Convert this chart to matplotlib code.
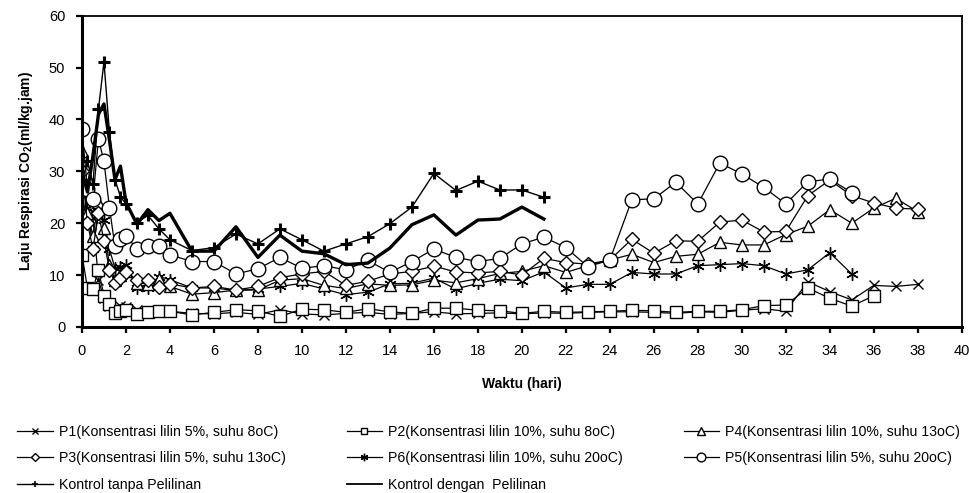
import matplotlib
matplotlib.use("Agg")
import matplotlib.pyplot as plt
from matplotlib.lines import Line2D

plt.rcParams['font.family'] = ['Liberation Sans', 'DejaVu Sans']
plt.rcParams['mathtext.fontset'] = 'custom'
plt.rcParams['mathtext.bf'] = 'Liberation Sans:bold'

# waktu pengamatan (hari): rapat di awal, lalu harian
hari_awal = [0, 0.25, 0.5, 0.75, 1, 1.25, 1.5, 1.75, 2, 2.5, 3, 3.5, 4, 5]
hari_38 = hari_awal + list(range(6, 39))
hari_36 = hari_awal + list(range(6, 37))
hari_35 = hari_awal + list(range(6, 36))
hari_21 = hari_awal + list(range(6, 22))

p1 = [20.5, 26.0, 21.0, 9.0, 5.5, 4.0, 3.5, 4.0, 3.9, 3.3, 3.0, 3.3, 3.0, 2.6,
      2.5, 2.8, 2.4, 3.3, 2.5, 2.3, 2.6, 2.8, 2.4, 2.6, 2.9, 2.5, 2.6, 2.7, 2.5, 2.7,
      2.6, 2.8, 2.9, 2.9, 2.8, 2.6, 2.9, 2.8, 3.2, 3.5, 3.0, 8.7, 6.8, 5.2, 8.0, 7.8, 8.2]
p2 = [13.9, 7.5, 7.3, 11.0, 6.0, 4.5, 2.6, 3.1, 3.3, 2.5, 2.8, 3.1, 3.0, 2.3,
      2.8, 3.3, 3.1, 2.0, 3.4, 3.3, 2.8, 3.5, 2.9, 2.6, 3.6, 3.6, 3.2, 3.1, 2.6, 3.0,
      2.8, 2.9, 3.0, 3.2, 3.1, 2.8, 3.0, 3.0, 3.3, 4.1, 4.2, 7.5, 5.5, 4.0, 6.0]
p3 = [30.0, 20.0, 15.0, 22.0, 16.6, 11.0, 8.5, 9.5, 10.5, 9.1, 9.1, 7.7, 8.3, 7.5,
      7.8, 7.1, 7.8, 9.5, 10.2, 10.7, 8.0, 8.8, 10.2, 10.7, 11.7, 10.6, 10.4, 10.7, 10.0,
      13.2, 12.4, 12.1, 12.9, 16.9, 14.2, 16.6, 16.5, 20.2, 20.6, 18.3, 18.4, 25.3, 28.3,
      25.3, 23.9, 22.9, 22.7]
p4 = [34.0, 22.0, 17.5, 24.0, 19.0, 12.0, 9.0, 10.0, 10.8, 8.5, 8.3, 9.2, 7.8, 6.3,
      6.6, 7.1, 7.1, 9.0, 9.3, 8.0, 7.4, 8.3, 8.0, 8.1, 9.0, 8.5, 9.3, 10.3, 10.7,
      11.8, 10.5, 11.8, 12.9, 14.0, 12.4, 13.6, 14.0, 16.3, 15.8, 15.8, 17.8, 19.4, 22.6,
      20.0, 22.9, 24.8, 22.2]
p5 = [38.1, 26.5, 24.6, 36.3, 31.9, 23.0, 15.5, 16.9, 17.6, 15.0, 15.5, 15.5, 13.9, 12.6,
      12.6, 10.2, 11.2, 13.4, 11.3, 11.8, 11.0, 12.8, 10.5, 12.6, 15.0, 13.4, 12.6, 13.2,
      16.0, 17.3, 15.3, 11.6, 12.9, 24.5, 24.7, 27.9, 23.7, 31.6, 29.5, 26.9, 23.7, 28.0,
      28.5, 25.9]
p6 = [28.0, 23.0, 15.0, 22.2, 20.6, 15.0, 11.3, 11.5, 12.0, 7.5, 7.5, 9.7, 9.1, 7.5,
      7.5, 7.0, 7.3, 7.8, 8.4, 7.3, 6.2, 6.7, 8.3, 8.4, 9.4, 7.3, 8.4, 9.2, 8.9,
      10.6, 7.5, 8.2, 8.2, 10.5, 10.2, 10.2, 11.8, 12.0, 12.2, 11.8, 10.2, 11.0, 14.3, 10.2]
kontrol_tanpa = [28.0, 32.0, 27.5, 42.0, 51.1, 37.5, 28.4, 25.1, 23.7, 20.1, 21.5, 18.9, 16.8, 14.7,
                 15.3, 17.9, 16.0, 18.9, 16.8, 14.6, 16.0, 17.4, 19.9, 23.1, 29.6, 26.3,
                 28.1, 26.4, 26.4, 25.0]
kontrol_dengan = [30.0, 26.0, 33.0, 41.0, 43.0, 36.0, 28.4, 31.0, 24.0, 19.8, 22.6, 20.5, 21.9, 14.6,
                  14.6, 19.3, 13.4, 17.7, 14.6, 14.1, 12.0, 12.3, 15.2, 19.7, 21.6, 17.7,
                  20.6, 20.8, 23.1, 20.8]

label_p1 = "P1(Konsentrasi lilin 5%, suhu 8oC)"
label_p2 = "P2(Konsentrasi lilin 10%, suhu 8oC)"
label_p3 = "P3(Konsentrasi lilin 5%, suhu 13oC)"
label_p4 = "P4(Konsentrasi lilin 10%, suhu 13oC)"
label_p5 = "P5(Konsentrasi lilin 5%, suhu 20oC)"
label_p6 = "P6(Konsentrasi lilin 10%, suhu 20oC)"
label_kt = "Kontrol tanpa Pelilinan"
label_kd = "Kontrol dengan  Pelilinan"

fig = plt.figure(figsize=(9.7, 4.93), dpi=100)
ax = fig.add_axes([0.0845, 0.337, 0.907, 0.631])

garis = dict(color='black', lw=0.9, mfc='white', mec='black')
l1, = ax.plot(hari_38, p1, marker='x', ms=7, mew=1.0, label=label_p1, **garis)
l2, = ax.plot(hari_36, p2, marker='s', ms=8, mew=1.0, label=label_p2, **garis)
l6, = ax.plot(hari_35, p6, marker=(6, 2, 0), ms=9, mew=1.0, label=label_p6, **garis)
l4, = ax.plot(hari_38, p4, marker='^', ms=9, mew=1.0, label=label_p4, **garis)
l3, = ax.plot(hari_38, p3, marker='D', ms=7, mew=1.0, label=label_p3, **garis)
l5, = ax.plot(hari_35, p5, marker='o', ms=10.5, mew=1.0, label=label_p5, **garis)
lk, = ax.plot(hari_21, kontrol_tanpa, color='black', lw=1.0, marker='+', ms=8, mew=2.2,
              label=label_kt)
ld, = ax.plot(hari_21, kontrol_dengan, color='black', lw=2.4, label=label_kd)

ax.set_xlim(0, 40)
ax.set_ylim(0, 60)
ax.set_xticks(range(0, 41, 2))
ax.set_yticks(range(0, 61, 10))
ax.tick_params(direction='out', length=4, width=1.6, labelsize=10.5, pad=8)
for s in ax.spines.values():
    s.set_linewidth(1.3)
ax.spines['left'].set_linewidth(2.2)
ax.spines['bottom'].set_linewidth(2.2)

ax.set_xlabel("Waktu (hari)", fontsize=10, fontweight='bold', labelpad=14)
ax.set_ylabel(r"Laju Respirasi CO$\mathbf{_2}$(ml/kg.jam)", fontsize=10,
              fontweight='bold', labelpad=10)

# legenda: garis tipis dengan penanda kecil
ld_leg = Line2D([], [], color='black', lw=1.3)
lk_leg = Line2D([], [], color='black', lw=1.0, marker='+', ms=8, mew=1.2)
handles = [l1, l3, lk_leg, l2, l6, ld_leg, l4, l5]
labels = [label_p1, label_p3, label_kt, label_p2, label_p6, label_kd, label_p4, label_p5]
fig.legend(handles=handles, labels=labels,
           loc='lower left', bbox_to_anchor=(0.018, 0.002, 0.972, 0.15),
           mode='expand', ncol=3, frameon=False, fontsize=10.2,
           handlelength=2.5, handletextpad=0.45, labelspacing=0.9,
           markerscale=0.6, borderaxespad=0.0, borderpad=0.0)

fig.savefig("out.png", dpi=100)
